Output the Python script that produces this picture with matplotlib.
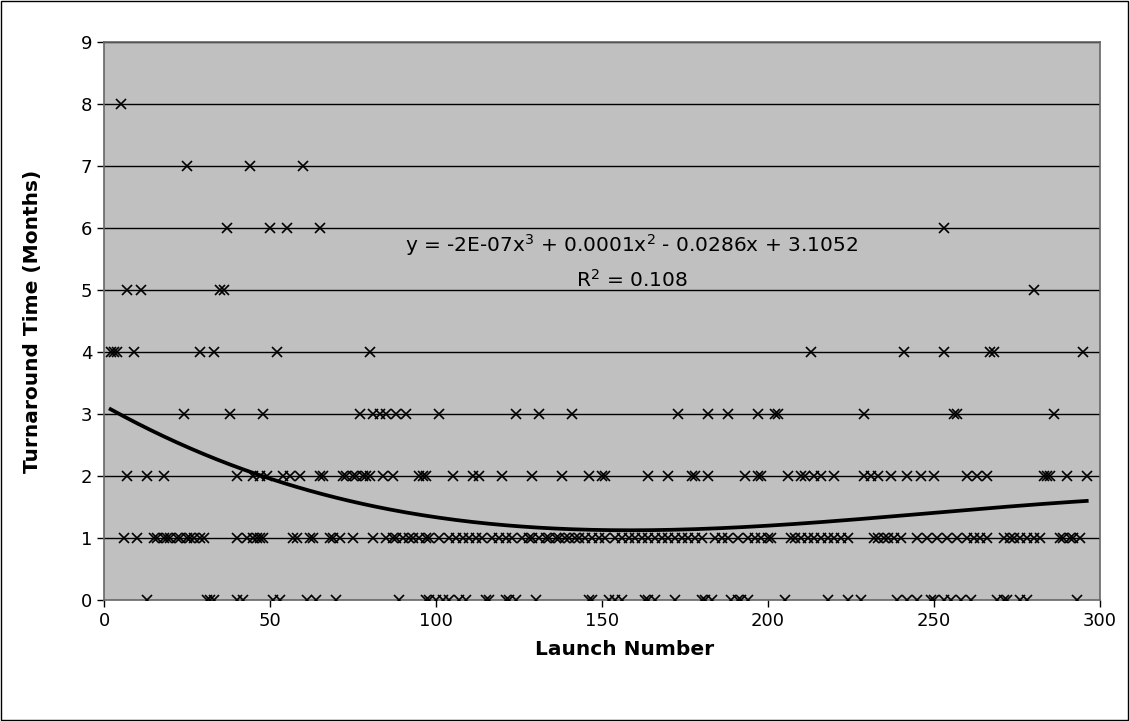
import numpy as np
import matplotlib
matplotlib.use("Agg")
import matplotlib.pyplot as plt
from matplotlib.patches import Rectangle

# launch numbers grouped by turnaround time (months)
months_0 = [13, 31, 32, 33, 40, 42, 51, 53, 61, 64, 70, 89, 97, 98, 100, 102, 104, 107, 109,
            115, 116, 121, 122, 124, 130, 146, 147, 152, 154, 156, 163, 164, 166, 172, 180,
            181, 183, 189, 191, 192, 194, 205, 218, 224, 228, 239, 242, 245, 249, 250, 253,
            255, 258, 261, 269, 271, 272, 276, 278, 293]
months_1 = [6, 10, 15, 16, 18, 19, 20, 22, 23, 25, 26, 27, 29, 30, 40, 43, 45, 46, 47, 48,
            57, 58, 62, 63, 68, 69, 71, 75, 81, 85, 87, 88, 90, 92, 93, 95, 97,
            98, 101, 104, 106, 108, 110, 112, 114, 117, 119, 121, 123, 126, 128, 129, 131,
            133, 134, 136, 137, 139, 140, 142, 143, 145, 147, 149, 151, 154, 156, 158, 160,
            162, 164, 166, 168, 170, 172, 174, 176, 178, 180, 184, 186, 188, 191, 194, 196,
            198, 200, 201, 207, 208, 210, 212, 214, 216, 218, 220, 222, 224, 232, 233, 235,
            236, 238, 240, 245, 248, 251, 254, 257, 260, 262, 264, 266, 271, 273, 274, 276,
            278, 280, 282, 288, 289, 291, 292, 294]
months_2 = [7, 13, 18, 40, 45, 47, 49, 54, 56, 59, 65, 66, 72, 73, 75, 76, 78, 79, 80, 84,
            87, 95, 96, 97, 105, 111, 113, 120, 129, 138, 146, 150, 151, 164, 170, 177, 178,
            182, 193, 197, 198, 206, 210, 211, 214, 216, 220, 229, 231, 233, 237, 242, 246,
            250, 260, 263, 266, 283, 284, 285, 290, 296]
months_3 = [24, 38, 48, 77, 81, 83, 85, 88, 91, 101, 124, 131, 141, 173, 182, 188, 197, 202,
            203, 229, 256, 257, 286]
months_4 = [2, 3, 4, 9, 29, 33, 52, 80, 213, 241, 253, 267, 268, 295]
months_5 = [7, 11, 35, 36, 280]
months_6 = [37, 50, 55, 65, 253]
months_7 = [25, 44, 60]
months_8 = [5]

groups = [months_0, months_1, months_2, months_3, months_4, months_5, months_6, months_7, months_8]
launch = np.concatenate([np.array(g, dtype=float) for g in groups])
turnaround = np.concatenate([np.full(len(g), float(m)) for m, g in enumerate(groups)])
order = np.argsort(launch)
launch, turnaround = launch[order], turnaround[order]

fig = plt.figure(figsize=(11.3, 7.21), dpi=100)
ax = fig.add_axes([104 / 1130, 1 - 600 / 721, 996 / 1130, 558 / 721])
ax.set_facecolor("#C0C0C0")

for y in range(1, 10):
    ax.axhline(y, color="black", lw=1, zorder=1)

ax.plot(launch, turnaround, "x", color="black", ms=7, mew=1.2, zorder=3)

# third-order polynomial trendline
coef = np.polyfit(launch, turnaround, 3)
tx = np.arange(launch.min(), launch.max() + 1)
ax.plot(tx, np.polyval(coef, tx), color="black", lw=2.7, zorder=4)

ax.text(159, 5.73, r"y = -2E-07x$^3$ + 0.0001x$^2$ - 0.0286x + 3.1052",
        ha="center", va="center", fontsize=14.5)
ax.text(159, 5.16, r"R$^2$ = 0.108", ha="center", va="center", fontsize=14.5)

ax.set_xlim(0, 300)
ax.set_ylim(0, 9)
ax.set_xticks(range(0, 301, 50))
ax.set_yticks(range(0, 10))
ax.tick_params(labelsize=13, direction="out", length=5, width=1)
for s in ax.spines.values():
    s.set_color("#666666")
    s.set_linewidth(1.2)

ax.set_xlabel("Launch Number", fontsize=14.5, fontweight="bold")
ax.xaxis.set_label_coords(0.523, -0.072)
ax.set_ylabel("Turnaround Time (Months)", fontsize=14.5, fontweight="bold", labelpad=28)

fig.patches.append(Rectangle((0.0005, 0.001), 0.998, 0.997, transform=fig.transFigure,
                             fill=False, edgecolor="black", lw=1))

fig.savefig("out.png", dpi=100)
